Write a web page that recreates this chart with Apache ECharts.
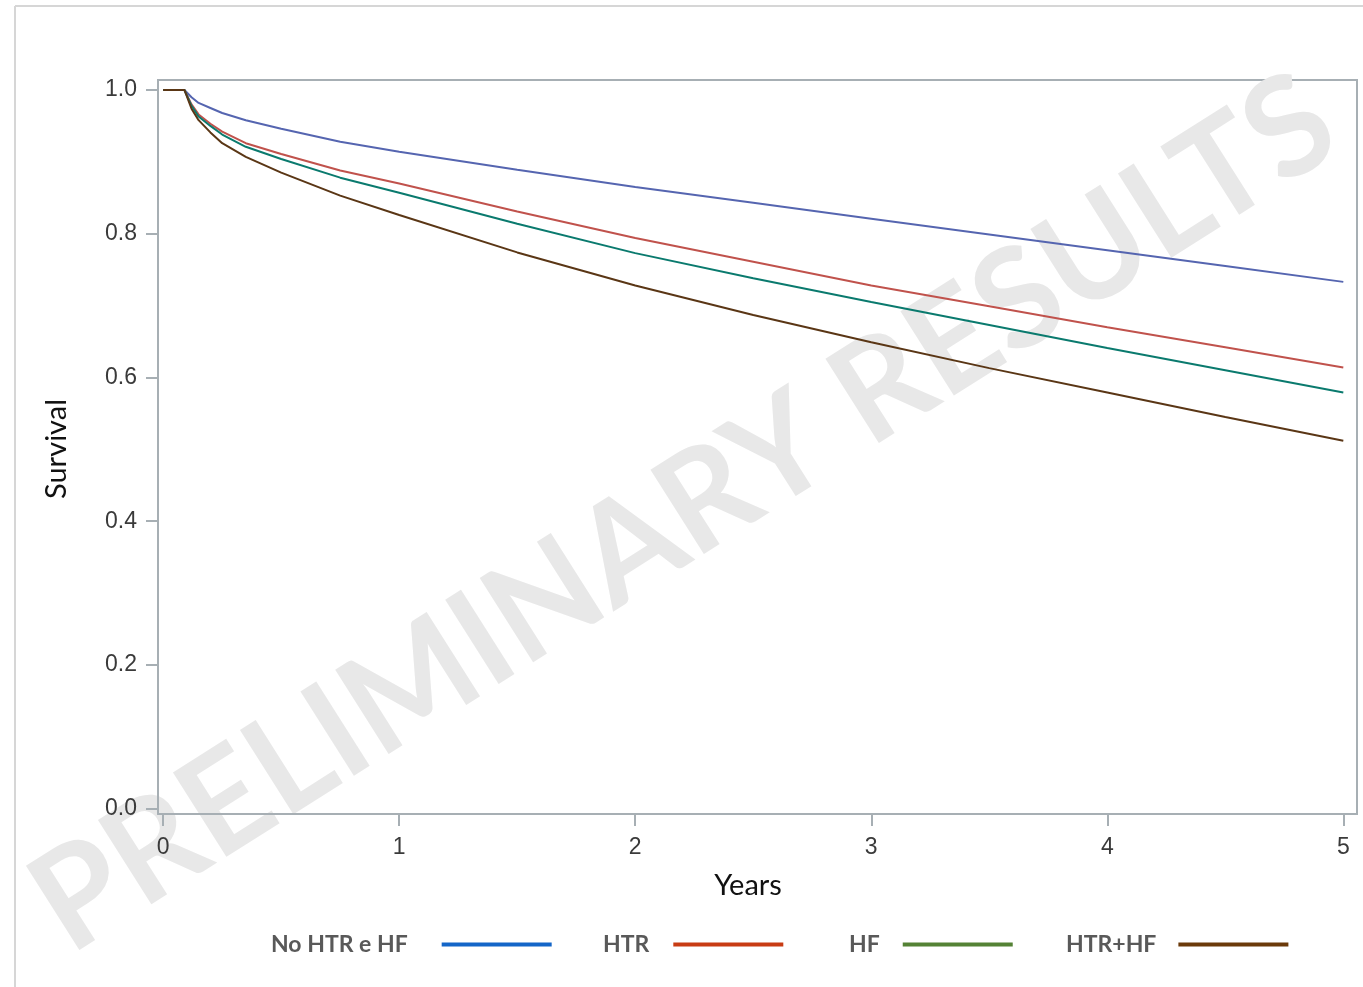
<!DOCTYPE html>
<html>
<head>
<meta charset="utf-8">
<script src="https://cdn.jsdelivr.net/npm/echarts@6/dist/echarts.min.js"></script>
<style>
  html, body { margin: 0; padding: 0; background: #ffffff; }
  #chart { width: 1363px; height: 987px; }
</style>
</head>
<body>
<div id="chart"></div>
<script>
// ---- Data ----
const years   = [0, 0.09, 0.12, 0.15, 0.2, 0.25, 0.35, 0.5, 0.75, 1, 1.5, 2, 2.5, 3, 3.5, 4, 4.5, 5];
const noHtrHf = [1, 1, 0.990, 0.982, 0.975, 0.968, 0.958, 0.946, 0.928, 0.914, 0.889, 0.865, 0.843, 0.821, 0.799, 0.777, 0.755, 0.733];
const htr     = [1, 1, 0.980, 0.966, 0.953, 0.942, 0.926, 0.911, 0.888, 0.870, 0.831, 0.794, 0.761, 0.728, 0.699, 0.670, 0.642, 0.614];
const hf      = [1, 1, 0.978, 0.963, 0.950, 0.938, 0.921, 0.904, 0.878, 0.857, 0.814, 0.773, 0.738, 0.705, 0.673, 0.641, 0.610, 0.579];
const htrHf   = [1, 1, 0.974, 0.958, 0.941, 0.926, 0.907, 0.885, 0.853, 0.826, 0.774, 0.728, 0.687, 0.649, 0.613, 0.579, 0.545, 0.512];
const seriesNames = ['No HTR e HF', 'HTR', 'HF', 'HTR+HF'];
const xTicks = [0, 1, 2, 3, 4, 5];
const yTicks = [0, 0.2, 0.4, 0.6, 0.8, 1.0];

const lineColors = ['#5565b0', '#c0524c', '#0a7a6e', '#5a3615'];
const legendColors = ['#1466c8', '#c83c14', '#548235', '#6b3a0a'];
const legendLeft = [271, 603, 849, 1066];
const legendPadRight = [29, 19, 18, 17];

const allValues = [noHtrHf, htr, hf, htrHf];

const chart = echarts.init(document.getElementById('chart'), null, { renderer: 'canvas' });

const axisColor = '#a7afb4';
const tickFont = { fontFamily: 'Liberation Sans', fontSize: 23, color: '#3a3a3a' };

const option = {
  backgroundColor: '#ffffff',
  animation: false,
  grid: {
    left: 158, right: 6, top: 80, bottom: 173,
    show: true, borderColor: axisColor, borderWidth: 2, backgroundColor: 'transparent'
  },
  xAxis: {
    type: 'value',
    min: -0.022, max: 5.058,
    splitLine: { show: false },
    axisLine: { show: true, onZero: false, lineStyle: { color: axisColor, width: 2 } },
    axisTick: { show: true, length: 12, lineStyle: { color: axisColor, width: 2 }, customValues: xTicks },
    axisLabel: Object.assign({ margin: 22, customValues: xTicks, formatter: v => String(Math.round(v)) }, tickFont)
  },
  yAxis: {
    type: 'value',
    min: -0.0074, max: 1.0139,
    splitLine: { show: false },
    axisLine: { show: true, onZero: false, lineStyle: { color: axisColor, width: 2 } },
    axisTick: { show: true, length: 12, lineStyle: { color: axisColor, width: 2 }, customValues: yTicks },
    axisLabel: Object.assign({ margin: 21, customValues: yTicks, formatter: v => v.toFixed(1) }, tickFont)
  },
  legend: seriesNames.map((name, i) => ({
    data: [{ name: name, itemStyle: { color: legendColors[i] } }],
    left: legendLeft[i], top: 933,
    padding: 0,
    align: 'right',
    icon: 'rect',
    itemWidth: 110, itemHeight: 4,
    selectedMode: false,
    textStyle: { fontFamily: 'Lato', fontWeight: 'bold', fontSize: 23, color: '#595959', padding: [0, legendPadRight[i], 0, 0] }
  })),
  graphic: [
    // outer frame of the picture
    { type: 'line', shape: { x1: 15, y1: 6, x2: 1363, y2: 6 }, style: { stroke: '#d6d6d6', lineWidth: 2 }, silent: true },
    { type: 'line', shape: { x1: 15, y1: 6, x2: 15, y2: 987 }, style: { stroke: '#d6d6d6', lineWidth: 2 }, silent: true },
    // watermark
    {
      type: 'text', x: 684, y: 514, rotation: 0.565, z: 0, silent: true,
      style: { text: 'PRELIMINARY RESULTS', fontFamily: 'Lato', fontWeight: 'bold', fontSize: 138,
               fill: '#e8e8e8', align: 'center', verticalAlign: 'middle' }
    },
    // axis titles
    {
      type: 'text', x: 57, y: 449, rotation: Math.PI / 2, silent: true,
      style: { text: 'Survival', fontFamily: 'Lato', fontSize: 29, fill: '#111111', align: 'center', verticalAlign: 'middle' }
    },
    {
      type: 'text', x: 748, y: 886, silent: true,
      style: { text: 'Years', fontFamily: 'Lato', fontSize: 29, fill: '#111111', align: 'center', verticalAlign: 'middle' }
    }
  ],
  series: seriesNames.map((name, i) => ({
    name: name,
    type: 'line',
    z: 5,
    showSymbol: false,
    symbol: 'none',
    smooth: false,
    itemStyle: { color: lineColors[i] },
    lineStyle: { color: lineColors[i], width: 2 },
    data: years.map((x, k) => [x, allValues[i][k]])
  }))
};

chart.setOption(option);
</script>
</body>
</html>
